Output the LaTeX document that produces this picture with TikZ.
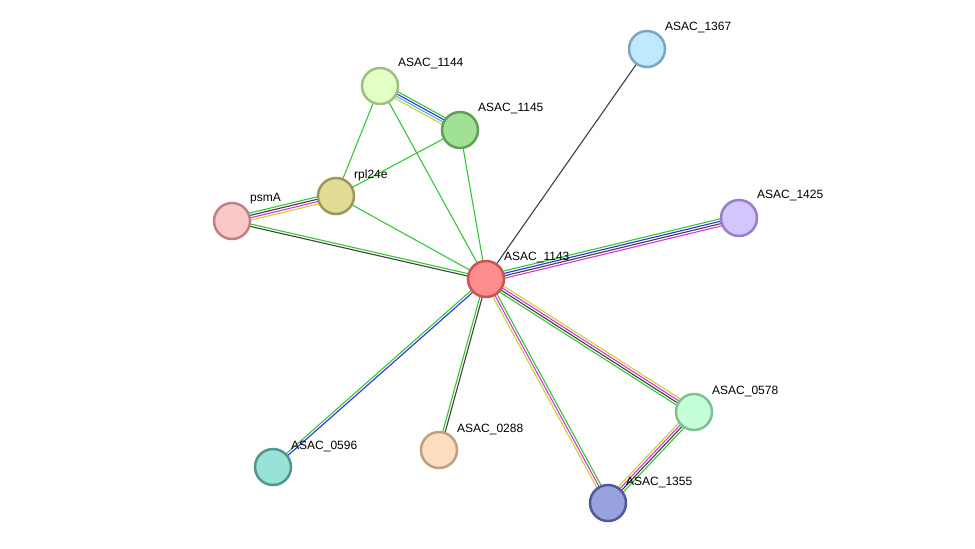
\documentclass[tikz,border=0pt]{standalone}
\usepackage{fontspec}
\setmainfont{Liberation Sans}
\usepackage{xcolor}
\usetikzlibrary{calc}
\pgfdeclarelayer{background}
\pgfsetlayers{background,main}
\definecolor{sgreen}{RGB}{51,199,51}
\definecolor{sgray}{RGB}{64,64,64}
\definecolor{smagenta}{RGB}{221,51,221}
\definecolor{syellow}{RGB}{198,211,51}
\definecolor{sblue}{RGB}{45,45,235}
\definecolor{scyan}{RGB}{72,180,228}
% edge as parallel lines: colour/offset pairs
\newcommand{\link}[3]{%
  \foreach \c/\o in {#3}
    \draw[link, \c] ($(#1.center)!\o pt!90:(#2.center)$) -- ($(#2.center)!\o pt!-90:(#1.center)$);
}

\begin{document}
\begin{tikzpicture}[
    x=1pt, y=-1pt,
    prot/.style={circle, draw, line width=2.5pt, minimum size=36pt, inner sep=0pt},
    lbl/.style={anchor=west, inner sep=0pt, font=\fontsize{12}{14}\selectfont},
    link/.style={line width=1.1pt},
]
\useasboundingbox (0,0) rectangle (975,549);

\node[prot, fill={rgb,255:red,255;green,140;blue,140}, draw={rgb,255:red,200;green,85;blue,85}] (n1143) at (486,279) {};
\node[prot, fill={rgb,255:red,192;green,232;blue,255}, draw={rgb,255:red,122;green,165;blue,195}] (n1367) at (647,49) {};
\node[prot, fill={rgb,255:red,226;green,255;blue,196}, draw={rgb,255:red,160;green,190;blue,128}] (n1144) at (380,86) {};
\node[prot, fill={rgb,255:red,160;green,225;blue,150}, draw={rgb,255:red,98;green,160;blue,90}] (n1145) at (460,130) {};
\node[prot, fill={rgb,255:red,224;green,220;blue,150}, draw={rgb,255:red,158;green,150;blue,90}] (rpl) at (336,196) {};
\node[prot, fill={rgb,255:red,249;green,200;blue,200}, draw={rgb,255:red,190;green,130;blue,130}] (psma) at (232,221) {};
\node[prot, fill={rgb,255:red,212;green,196;blue,255}, draw={rgb,255:red,150;green,128;blue,200}] (n1425) at (739,218) {};
\node[prot, fill={rgb,255:red,196;green,255;blue,216}, draw={rgb,255:red,128;green,190;blue,150}] (n0578) at (694,412) {};
\node[prot, fill={rgb,255:red,152;green,162;blue,222}, draw={rgb,255:red,80;green,90;blue,150}] (n1355) at (608,503) {};
\node[prot, fill={rgb,255:red,255;green,222;blue,192}, draw={rgb,255:red,190;green,160;blue,128}] (n0288) at (439,450) {};
\node[prot, fill={rgb,255:red,152;green,226;blue,216}, draw={rgb,255:red,80;green,150;blue,140}] (n0596) at (273,467) {};

\node[lbl] (l1143) at ($(n1143)+(18,-22)$) {ASAC\_1143};
\node[lbl] (l1367) at ($(n1367)+(18,-21)$) {ASAC\_1367};
\node[lbl] (l1144) at ($(n1144)+(18,-22)$) {ASAC\_1144};
\node[lbl] (l1145) at ($(n1145)+(18,-21)$) {ASAC\_1145};
\node[lbl] (lrpl) at ($(rpl)+(18,-21)$) {rpl24e};
\node[lbl] (lpsma) at ($(psma)+(18,-22)$) {psmA};
\node[lbl] (l1425) at ($(n1425)+(18,-22)$) {ASAC\_1425};
\node[lbl] (l0578) at ($(n0578)+(18,-21)$) {ASAC\_0578};
\node[lbl] (l1355) at ($(n1355)+(18,-21)$) {ASAC\_1355};
\node[lbl] (l0288) at ($(n0288)+(18,-21)$) {ASAC\_0288};
\node[lbl] (l0596) at ($(n0596)+(18,-21)$) {ASAC\_0596};

\begin{pgfonlayer}{background}
\link{psma}{rpl}{sgreen/3.6, sgray/1.2, smagenta/-1.2, syellow/-3.6}
\link{psma}{n1143}{sgreen/1.2, sgray/-1.2}
\link{rpl}{n1143}{sgreen/0}
\link{rpl}{n1144}{sgreen/0}
\link{rpl}{n1145}{sgreen/0}
\link{n1144}{n1143}{sgreen/0}
\link{n1145}{n1143}{sgreen/0}
\link{n1144}{n1145}{sgreen/3.6, sblue/1.2, scyan/-1.2, syellow/-3.6}
\link{n1143}{n1367}{sgray/0}
\link{n1143}{n1425}{sgreen/3.6, sblue/1.2, sgray/-1.2, smagenta/-3.6}
\link{n1143}{n0578}{syellow/3.6, smagenta/1.2, sgray/-1.2, sgreen/-3.6}
\link{n1143}{n1355}{sgreen/2.4, smagenta/0, syellow/-2.4}
\link{n0578}{n1355}{sgreen/3.6, sgray/1.2, smagenta/-1.2, syellow/-3.6}
\link{n1143}{n0288}{sgray/1.2, sgreen/-1.2}
\link{n1143}{n0596}{sblue/1.2, sgreen/-1.2}
\end{pgfonlayer}
\end{tikzpicture}
\end{document}
